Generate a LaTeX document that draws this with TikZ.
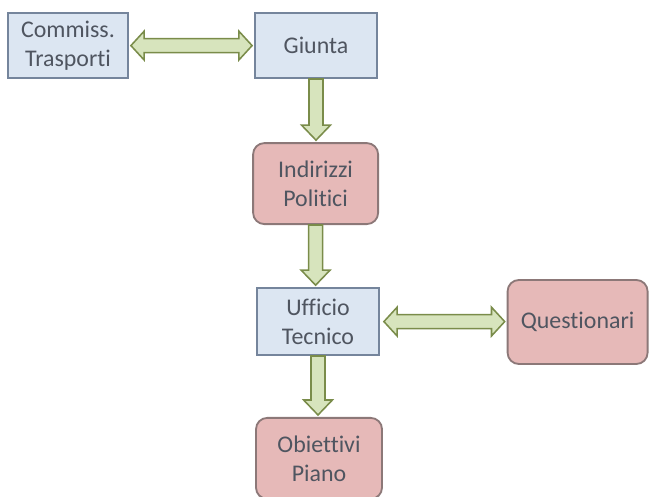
\documentclass[tikz,border=0pt]{standalone}
\usepackage{fontspec}
\setmainfont{Carlito}[Ligatures={NoCommon}]
\usetikzlibrary{calc}
\definecolor{bluefill}{HTML}{DCE6F2}
\definecolor{blueline}{HTML}{75859C}
\definecolor{redfill}{HTML}{E6B9B8}
\definecolor{redline}{HTML}{8C7878}
\definecolor{arrowfill}{HTML}{D7E4BD}
\definecolor{arrowline}{HTML}{7A8C4A}
\definecolor{textgrey}{HTML}{4F5560}
\tikzset{
    box/.style={draw, align=center, font=\fontsize{17}{20.5}\selectfont,
        text=textgrey, line width=1.3pt, inner sep=2pt},
    office/.style={box, fill=bluefill, draw=blueline},
    outcome/.style={box, rounded corners=8pt, fill=redfill, draw=redline},
    downlink/.style={draw=arrowline, fill=arrowfill, line width=1.1pt, line join=miter,
        to path={let \p1=(\tikztostart), \p2=(\tikztotarget) in
            (\x1-0.175cm,\y1) -- (\x1-0.175cm,\y2+0.375cm) -- (\x1-0.36cm,\y2+0.375cm)
            -- (\x1,\y2) -- (\x1+0.36cm,\y2+0.375cm) -- (\x1+0.175cm,\y2+0.375cm)
            -- (\x1+0.175cm,\y1) -- cycle}},
    bothlink/.style={draw=arrowline, fill=arrowfill, line width=1.1pt, line join=miter,
        to path={let \p1=(\tikztostart), \p2=(\tikztotarget) in
            (\x1,\y1) -- (\x1+0.33cm,\y1+0.36cm) -- (\x1+0.33cm,\y1+0.175cm)
            -- (\x2-0.33cm,\y1+0.175cm) -- (\x2-0.33cm,\y1+0.36cm) -- (\x2,\y1)
            -- (\x2-0.33cm,\y1-0.36cm) -- (\x2-0.33cm,\y1-0.175cm)
            -- (\x1+0.33cm,\y1-0.175cm) -- (\x1+0.33cm,\y1-0.36cm) -- cycle}}
}

\begin{document}
\begin{tikzpicture}
    \useasboundingbox (0,0) rectangle (16.225,-12.425);
    \node[office, minimum width=3.0cm, minimum height=1.625cm] (comm) at (1.70,-1.14) {Commiss.\\Trasporti};
    \node[office, minimum width=3.05cm, minimum height=1.625cm] (giunta) at (7.90,-1.14) {Giunta};
    \node[outcome, minimum width=3.125cm, minimum height=2.025cm] (indir) at (7.89,-4.59) {Indirizzi\\Politici};
    \node[office, minimum width=3.05cm, minimum height=1.675cm] (ufficio) at (7.95,-8.04) {Ufficio\\Tecnico};
    \node[outcome, minimum width=3.5cm, minimum height=2.1cm] (quest) at (14.44,-8.05) {Questionari};
    \node[outcome, minimum width=3.15cm, minimum height=2.025cm] (obiet) at (7.975,-11.46) {Obiettivi\\Piano};
    % two-way links
    \draw[bothlink] ($(comm.east)+(0.05,0)$) to ($(giunta.west)+(-0.05,0)$);
    \draw[bothlink] ($(ufficio.east)+(0.1,0)$) to ($(quest.west)+(-0.05,0)$);
    \draw[downlink] (giunta.south) to ($(indir.north)+(0,0.05)$);
    \draw[downlink] (indir.south) to ($(ufficio.north)+(0,0.05)$);
    \draw[downlink] (ufficio.south) to ($(obiet.north)+(0,0.05)$);
\end{tikzpicture}
\end{document}
